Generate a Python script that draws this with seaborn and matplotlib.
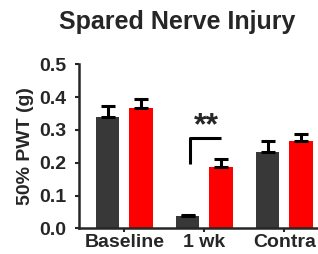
import matplotlib
matplotlib.use("Agg")
import matplotlib.pyplot as plt
import seaborn as sns
import pandas as pd
import numpy as np

categories = ["Baseline", "1 wk", "Contra"]
groups = ["Control", "Treated"]
means_control = [0.338, 0.038, 0.232]
means_treated = [0.366, 0.186, 0.267]
sem_control = [0.035, 0.003, 0.034]
sem_treated = [0.027, 0.026, 0.021]
yticks = [0.0, 0.1, 0.2, 0.3, 0.4, 0.5]

sns.set_style("ticks")
plt.rcParams['font.family'] = ['Liberation Sans', 'DejaVu Sans']
plt.rcParams['font.weight'] = 'bold'

df = pd.DataFrame({
    "cat": categories * 2,
    "grp": [groups[0]] * 3 + [groups[1]] * 3,
    "val": means_control + means_treated,
    "err": sem_control + sem_treated,
})

fig = plt.figure(figsize=(3.18, 2.54), dpi=100)
ax = fig.add_axes([0.248, 0.101, 0.752, 0.646])
palette = {"Control": "#383838", "Treated": "#ff0000"}
sns.barplot(data=df, x="cat", y="val", hue="grp", order=categories, hue_order=groups,
            palette=palette, width=0.84, gap=0.3, errorbar=None, legend=False,
            saturation=1, linewidth=0, ax=ax)

# error bars (upper only) from bar patches
bars = [p for p in ax.patches]
errs = sem_control + sem_treated
for p, e in zip(bars, errs):
    xc = p.get_x() + p.get_width() / 2
    h = p.get_height()
    ax.errorbar([xc], [h], yerr=[[0], [e]], fmt="none", ecolor="black",
                elinewidth=2.2, capsize=5, capthick=2.2)

# significance bracket on 1 wk
x1 = bars[1].get_x() + bars[1].get_width() / 2 + 0.03
x2 = bars[4].get_x() + bars[4].get_width() / 2
ax.plot([x1, x1, x2], [0.195, 0.274, 0.274], color="black", lw=2.2, solid_capstyle="butt")
ax.text((x1 + x2) / 2 + 0.01, 0.264, "**", ha="center", va="bottom", fontsize=23, fontweight="bold")

ax.set_xlim(-0.569, 2.42)
ax.set_ylim(0, 0.5)
ax.set_yticks(yticks)
ax.set_yticklabels([f"{v:.1f}" for v in yticks])
ax.set_xlabel("")
ax.set_ylabel("50% PWT (g)", fontsize=14, fontweight="bold", labelpad=4)
ax.tick_params(axis="both", labelsize=14, width=1.5, length=3)
ax.tick_params(axis="y", pad=6)
ax.tick_params(axis="x", pad=1)
for lab in ax.get_xticklabels() + ax.get_yticklabels():
    lab.set_fontweight("bold")
sns.despine(ax=ax)
ax.spines["left"].set_linewidth(1.8)
ax.spines["bottom"].set_linewidth(1.8)

fig.text(0.558, 0.915, "Spared Nerve Injury", ha="center", va="center",
         fontsize=18, fontweight="bold")

fig.savefig("out.png", dpi=100)
